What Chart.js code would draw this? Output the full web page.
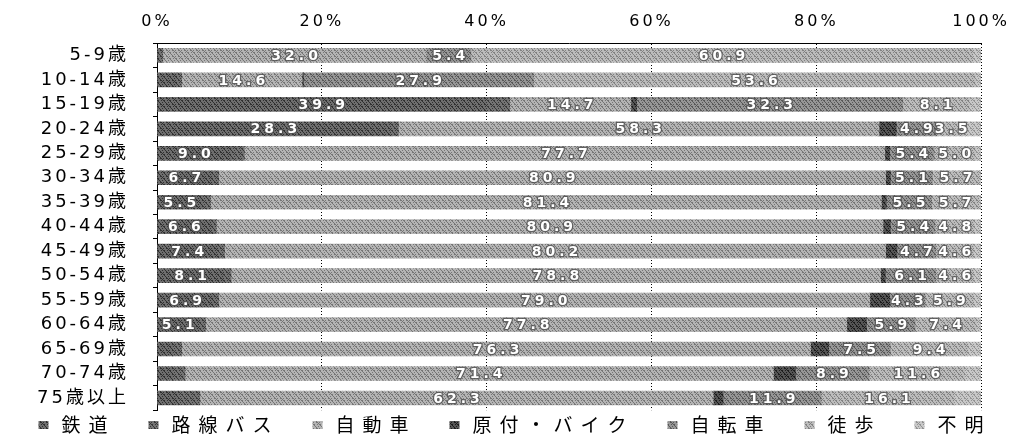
<!DOCTYPE html>
<html>
<head>
<meta charset="utf-8">
<script src="https://cdn.jsdelivr.net/npm/chart.js@4/dist/chart.umd.min.js"></script>
<style>
  body { margin: 0; background: #fff; }
  #wrap { width: 1022px; height: 445px; }
</style>
</head>
<body>
<div id="wrap"><canvas id="chart" width="1022" height="445"></canvas></div>
<script>
const ages = ['5-9歳','10-14歳','15-19歳','20-24歳','25-29歳','30-34歳','35-39歳','40-44歳','45-49歳','50-54歳','55-59歳','60-64歳','65-69歳','70-74歳','75歳以上'];

// 代表交通手段別構成比（%）
const tetsudo  = [0.3, 2.4, 39.9, 28.3, 9.0, 6.7, 5.5, 6.6, 7.4, 8.1, 6.9, 5.1, 1.9, 1.9, 2.6];
const bus      = [0.4, 0.6, 2.9, 1.0, 1.6, 0.8, 1.0, 0.6, 0.8, 0.9, 0.6, 0.8, 1.1, 1.5, 2.6];
const car      = [32.0, 14.6, 14.7, 58.3, 77.7, 80.9, 81.4, 80.9, 80.2, 78.8, 79.0, 77.8, 76.3, 71.4, 62.3];
const bike     = [0.0, 0.2, 0.7, 2.1, 0.6, 0.6, 0.6, 0.9, 1.4, 0.6, 2.4, 2.4, 2.2, 2.7, 1.2];
const cycle    = [5.4, 27.9, 32.3, 4.9, 5.4, 5.1, 5.5, 5.4, 4.7, 6.1, 4.3, 5.9, 7.5, 8.9, 11.9];
const walk     = [60.9, 53.6, 8.1, 3.5, 5.0, 5.7, 5.7, 4.8, 4.6, 4.6, 5.9, 7.4, 9.4, 11.6, 16.1];
const unknown  = [1.0, 0.7, 1.4, 1.9, 0.7, 0.2, 0.3, 0.8, 0.9, 0.9, 0.9, 0.6, 1.6, 2.0, 3.3];

const xTicks = [0, 20, 40, 60, 80, 100];

// 網掛け風のパターン
function makePattern(bg, fg){
  const c = document.createElement('canvas');
  c.width = 6; c.height = 6;
  const g = c.getContext('2d');
  g.fillStyle = bg;
  g.fillRect(0, 0, 6, 6);
  g.fillStyle = fg;
  for(let i = 0; i < 6; i++){
    g.fillRect(i, (i * 2) % 6, 1, 1);
    g.fillRect((i + 3) % 6, i, 1, 1);
  }
  return g.createPattern(c, 'repeat');
}

const labelled = [0, 2, 4, 5];

const valueLabels = {
  id: 'valueLabels',
  afterDatasetsDraw(chart){
    const ctx = chart.ctx;
    ctx.save();
    ctx.font = 'bold 14px "DejaVu Sans"';
    ctx.letterSpacing = '4px';
    ctx.textAlign = 'center';
    ctx.textBaseline = 'middle';
    chart.data.datasets.forEach((ds, di) => {
      if(!labelled.includes(di)) return;
      chart.getDatasetMeta(di).data.forEach((bar, i) => {
        const v = ds.data[i];
        if(v < 3) return;
        const x = (bar.x + bar.base) / 2 + 2;
        const t = v.toFixed(1);
        ctx.lineWidth = 2.5;
        ctx.strokeStyle = 'rgba(80,80,80,0.8)';
        ctx.strokeText(t, x, bar.y + 1);
        ctx.fillStyle = '#fff';
        ctx.fillText(t, x, bar.y + 1);
      });
    });
    ctx.restore();
  }
};

// 凡例（下）
const bottomLegend = {
  id: 'bottomLegend',
  afterDraw(chart){
    const ctx = chart.ctx;
    const sp = 8, box = 10, gapBox = 13, gapItem = 41;
    ctx.save();
    ctx.font = '19px "Noto Sans CJK JP"';
    ctx.letterSpacing = sp + 'px';
    ctx.textBaseline = 'middle';
    const items = chart.data.datasets.map(ds => ({
      text: ds.label, fill: ds.backgroundColor,
      w: ctx.measureText(ds.label).width - sp
    }));
    const total = items.reduce((a, it) => a + box + gapBox + it.w, 0) + gapItem * (items.length - 1);
    let x = (chart.width - total) / 2;
    const y = 425;
    items.forEach(it => {
      ctx.fillStyle = it.fill;
      ctx.fillRect(x, y - 4, box, box - 2);
      x += box + gapBox;
      ctx.fillStyle = '#000';
      ctx.fillText(it.text, x, y);
      x += it.w + gapItem;
    });
    ctx.restore();
  }
};

const spacing = {
  id: 'spacing',
  beforeLayout(chart){ chart.ctx.letterSpacing = '3px'; },
  beforeDraw(chart){ chart.ctx.letterSpacing = '3px'; }
};

const ctx = document.getElementById('chart').getContext('2d');
new Chart(ctx, {
  type: 'bar',
  data: {
    labels: ages,
    datasets: [
      { label: '鉄道', data: tetsudo, backgroundColor: makePattern('#6e6e6e', '#303030') },
      { label: '路線バス', data: bus, backgroundColor: makePattern('#747474', '#383838') },
      { label: '自動車', data: car, backgroundColor: makePattern('#b4b4b4', '#767676') },
      { label: '原付・バイク', data: bike, backgroundColor: makePattern('#555555', '#1c1c1c') },
      { label: '自転車', data: cycle, backgroundColor: makePattern('#969696', '#585858') },
      { label: '徒歩', data: walk, backgroundColor: makePattern('#bcbcbc', '#828282') },
      { label: '不明', data: unknown, backgroundColor: makePattern('#c8c8c8', '#939393') }
    ]
  },
  options: {
    indexAxis: 'y',
    responsive: false,
    animation: false,
    barThickness: 14,
    layout: { padding: { left: 8, right: 3, top: 0, bottom: 24 } },
    plugins: {
      legend: { display: false },
      tooltip: { enabled: false }
    },
    scales: {
      x: {
        position: 'top',
        stacked: true,
        min: 0,
        max: 100,
        afterBuildTicks(axis){ axis.ticks = xTicks.map(v => ({ value: v })); },
        ticks: {
          color: '#000',
          padding: 12,
          font: { size: 16, family: '"DejaVu Sans"' },
          callback: v => v + '%'
        },
        grid: { color: '#000', lineWidth: 1, drawTicks: false },
        border: { display: true, color: '#000', dash: [1, 2] }
      },
      y: {
        stacked: true,
        afterFit(axis){ axis.width = 149; },
        ticks: {
          color: '#000',
          padding: 24,
          autoSkip: false,
          font: { size: 18, family: '"DejaVu Sans", "Noto Sans CJK JP"' }
        },
        grid: { drawOnChartArea: false, color: '#000', tickLength: 4, offset: true },
        border: { display: true, color: '#000' }
      }
    }
  },
  plugins: [valueLabels, bottomLegend, spacing]
});
</script>
</body>
</html>
